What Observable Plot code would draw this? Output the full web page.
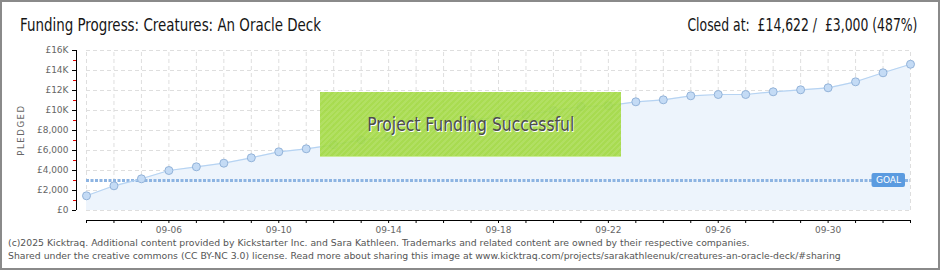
<!DOCTYPE html>
<html><head><meta charset="utf-8">
<script src="https://cdn.jsdelivr.net/npm/d3@7"></script>
<script src="https://cdn.jsdelivr.net/npm/@observablehq/plot@0.6"></script>
<style>
body{margin:0;background:#fff}
#wrap{position:relative;width:940px;height:270px;overflow:hidden;background:#fff}
#border{position:absolute;left:0;top:0;width:940px;height:270px;box-sizing:border-box;border:2px solid #8a8a8a;pointer-events:none}
.title{position:absolute;top:17px;font-family:"DejaVu Sans Condensed","Roboto",sans-serif;font-size:17px;line-height:17px;color:#151515;white-space:nowrap}
#chart{position:absolute;left:0;top:40px}
#success{position:absolute;left:320px;top:92px;width:301px;height:65px;box-sizing:border-box;border-bottom:1px solid #c9ec95;
 background:repeating-linear-gradient(-45deg,rgba(255,255,255,0) 0 2px,rgba(255,255,255,0.10) 2px 4px),rgba(160,216,62,0.9);
 display:flex;align-items:center;justify-content:center;font-family:"DejaVu Sans Condensed","Roboto",sans-serif;font-size:19px;color:#4d4d4d;text-shadow:1px 1px 0 #fff;white-space:nowrap}
#success span{display:inline-block}
#ylabel{position:absolute;left:21px;top:130px;transform:translate(-50%,-50%) rotate(-90deg);font-family:"DejaVu Sans",sans-serif;font-size:8.5px;letter-spacing:1.6px;color:#666;white-space:nowrap}
.foot{position:absolute;left:8px;font-family:"DejaVu Sans",sans-serif;font-size:9.3px;line-height:10px;color:#555;white-space:nowrap}
</style></head><body><div id="wrap">
<div class="title" id="t1" style="left:20px">Funding Progress: Creatures: An Oracle Deck</div>
<div class="title" id="t2" style="right:23px">Closed at:&nbsp; £14,622 / &nbsp;£3,000 (487%)</div>
<div id="chart"></div>
<div id="ylabel">PLEDGED</div>
<div id="success"><span id="st">Project Funding Successful</span></div>
<div class="foot" style="top:238px">(c)2025 Kicktraq. Additional content provided by Kickstarter Inc. and Sara Kathleen. Trademarks and related content are owned by their respective companies.</div>
<div class="foot" style="top:251px">Shared under the creative commons (CC BY-NC 3.0) license. Read more about sharing this image at www.kicktraq.com/projects/sarakathleenuk/creatures-an-oracle-deck/#sharing</div>
<div id="border"></div>
</div>
<script>
const dates = ["2025-09-03","2025-09-04","2025-09-05","2025-09-06","2025-09-07","2025-09-08","2025-09-09","2025-09-10",
  "2025-09-11","2025-09-12","2025-09-13","2025-09-14","2025-09-15","2025-09-16","2025-09-17","2025-09-18",
  "2025-09-19","2025-09-20","2025-09-21","2025-09-22","2025-09-23","2025-09-24","2025-09-25","2025-09-26",
  "2025-09-27","2025-09-28","2025-09-29","2025-09-30","2025-10-01","2025-10-02","2025-10-03"];
const pledged = [1470,2470,3170,4000,4370,4730,5270,5870,6170,6570,7070,7330,7900,8500,9070,9300,
  9580,9990,10400,10480,10870,11070,11470,11600,11600,11870,12070,12270,12870,13770,14622];
const goal = 3000;
const yTicks = [0,2000,4000,6000,8000,10000,12000,14000,16000];
const yTickLabels = ["£0","£2,000","£4,000","£6,000","£8,000","£10K","£12K","£14K","£16K"];
const yMinorTicks = [1000,3000,5000,7000,9000,11000,13000,15000];
const xTickLabels = ["09-06","09-10","09-14","09-18","09-22","09-26","09-30"];

const data = dates.map((d,i)=>({date:new Date(d+"T00:00:00Z"), value:pledged[i]}));
const first = data[0].date, last = data[data.length-1].date;
const fmt = d3.utcFormat("%m-%d");
const grid = {stroke:"#dedede", strokeDasharray:"4,3", strokeWidth:1};

const chart = Plot.plot({
  width:940, height:200,
  marginLeft:76, marginRight:30, marginTop:10, marginBottom:20,
  x:{type:"utc", domain:[first,last], insetLeft:10},
  y:{domain:[0,16000], insetBottom:10},
  style:{fontFamily:"DejaVu Sans, sans-serif", fontSize:"9px", background:"transparent", overflow:"visible"},
  marks:[
    Plot.ruleX(data, {x:"date", y1:0, y2:16000, ...grid}),
    Plot.ruleY(yTicks, {x1:first, x2:last, ...grid}),
    Plot.areaY(data, {x:"date", y:"value", fill:"#edf4fc"}),
    Plot.ruleY([goal], {x1:first, x2:last, stroke:"#8db4e2", strokeWidth:3, strokeDasharray:"3,1.5"}),
    Plot.line(data, {x:"date", y:"value", stroke:"#b6d3f2", strokeWidth:1.2}),
    Plot.dot(data, {x:"date", y:"value", r:4, fill:"#c4dbf5", stroke:"#93b3d9", strokeWidth:1}),
    Plot.rect([goal], {x1:data[data.length-2].date, x2:last, y1:d=>d, y2:d=>d,
      insetLeft:-11, insetRight:5, insetTop:-7, insetBottom:-7, fill:"#5b9be0", rx:2}),
    Plot.text([goal], {x:last, y:d=>d, dx:-22, text:()=>"GOAL", fill:"#fff", fontSize:9, letterSpacing:1}),
    Plot.ruleX([first], {y1:0, y2:16000, dx:-10, stroke:"#000"}),
    Plot.ruleY([0], {x1:first, x2:last, dy:10, stroke:"#000"}),
    Plot.axisY({ticks:yTicks, tickFormat:d=>yTickLabels[yTicks.indexOf(d)], tickSize:4, tickPadding:4, stroke:"#000", fill:"#666", label:null}),
    Plot.axisY({ticks:yMinorTicks, tickFormat:()=>"", tickSize:3, stroke:"#e00000", label:null}),
    Plot.axisX({ticks:data.map(d=>d.date), tickFormat:d=>xTickLabels.includes(fmt(d))?fmt(d):"", tickSize:3, tickPadding:3, stroke:"#000", fill:"#666", label:null})
  ]
});
document.getElementById("chart").appendChild(chart);

// squeeze the condensed-style headings to the reference's text widths
function fit(id, w, origin){
  const el = document.getElementById(id);
  const cur = el.getBoundingClientRect().width;
  el.style.transformOrigin = origin;
  el.style.transform = "scaleX(" + (w/cur) + ")";
}
fit("t1", 301, "left center");
fit("t2", 230, "right center");
fit("st", 207, "center center");
</script>
</body></html>
